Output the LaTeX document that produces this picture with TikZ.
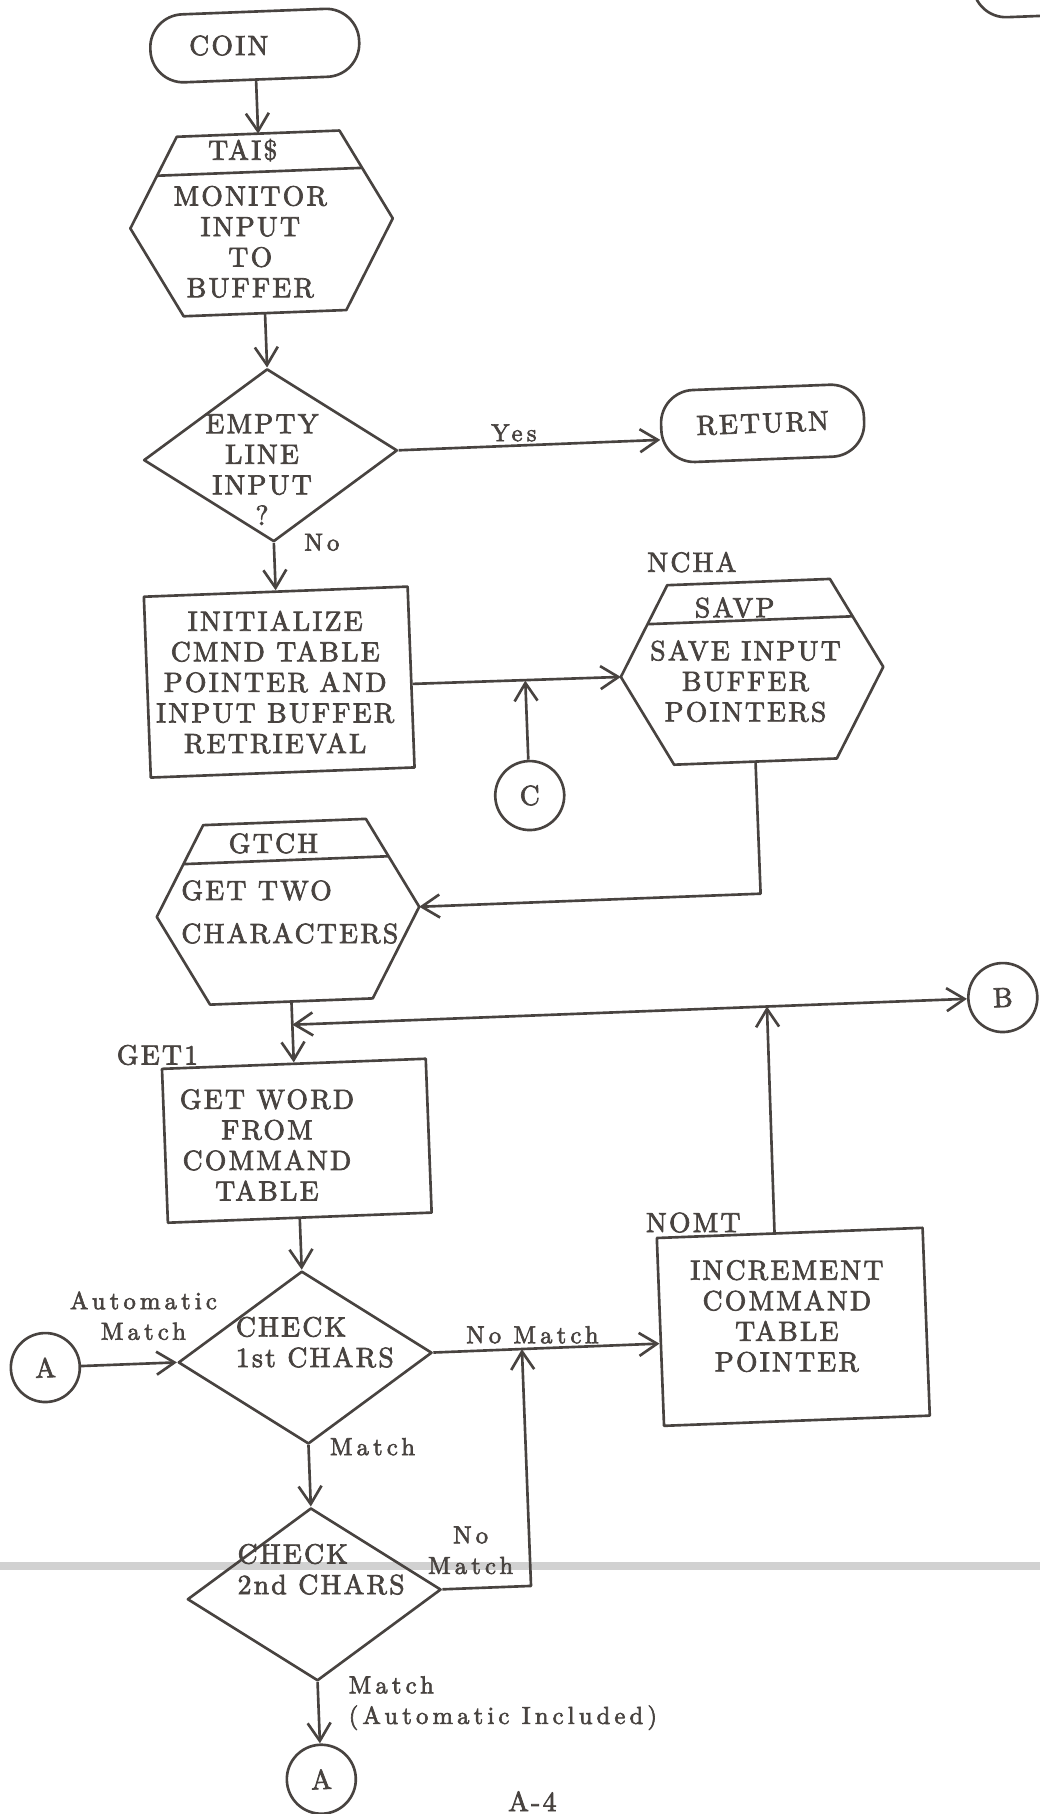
\documentclass[tikz,border=0pt]{standalone}
\usepackage{fontspec}
\usetikzlibrary{shapes.geometric,arrows.meta,calc}

\definecolor{ink}{RGB}{72,67,64}
\newfontfamily\boxfont{lmroman10-regular.otf}[LetterSpace=8, FakeBold=2.5]
\newfontfamily\labelfont{lmroman10-regular.otf}[LetterSpace=17, FakeBold=2.5]
\newcommand{\ftext}{\boxfont\fontsize{15.8pt}{17.4pt}\selectfont}
\newcommand{\flabel}{\labelfont\fontsize{14pt}{17.4pt}\selectfont}

\begin{document}
\begin{tikzpicture}[
  x=0.02cm, y=-0.02cm,
  flow/.style={draw=ink, line width=1.5pt, line join=round},
  flowarr/.style={flow, -{Straight Barb[length=3.6mm,width=4.6mm]}},
  txt/.style={text=ink, font=\ftext, align=center, inner sep=0pt},
  lbl/.style={txt, font=\flabel},
  term/.style={flow, rectangle, rounded corners=0.66cm, inner sep=0pt, transform shape, txt},
  subr/.style={rectangle, minimum width=5.24cm, minimum height=3.58cm, inner sep=0pt, transform shape},
  decision/.style={flow, diamond, minimum width=5.08cm, minimum height=3.46cm, inner sep=0pt, transform shape},
  proc/.style={flow, rectangle, inner sep=0pt, transform shape},
  conn/.style={flow, circle, minimum size=1.38cm, inner sep=0pt, transform shape, txt}
]

\useasboundingbox (0,0) rectangle (1040,1814);
\clip (0,0) rectangle (1040,1814);

% grey band across the page
\draw[black!18, line width=0.16cm] (0,1566) -- (1040,1566);

\begin{scope}[rotate around={2.2:(520,907)}]

% main column
\node[term, minimum width=4.18cm, minimum height=1.36cm] (coin) at (288,36) {};
\node[subr] (tais) at (288,214) {};
\node[decision] (empty) at (288,446) {};
\node[proc, minimum width=5.28cm, minimum height=3.62cm] (init) at (288,673) {};
\node[subr] (gtch) at (288,903) {};
\node[proc, minimum width=5.28cm, minimum height=3.08cm] (getw) at (288,1132) {};
\node[decision] (chk1) at (288,1349) {};
\node[decision] (chk2) at (288,1586) {};
\node[conn] (a2) at (288,1771) {A};

% right side
\node[term, minimum width=4.06cm, minimum height=1.44cm] (ret) at (781,433) {RETURN};
\node[subr] (savp) at (761,681) {};
\node[conn] (conC) at (534,796) {C};
\node[conn] (conB) at (999,1016) {B};
\node[proc, minimum width=5.32cm, minimum height=3.76cm] (incr) at (777,1337) {};
\node[conn] (a1) at (28,1349) {A};
\node[term, minimum width=4cm, minimum height=1.5cm] (cont) at (1108,-1) {};

% hexagon outlines with header line
\foreach \n in {tais,savp,gtch} {
  \coordinate (\n-nw) at ($(\n.north west)!0.19!(\n.north east)$);
  \coordinate (\n-ne) at ($(\n.north east)!0.19!(\n.north west)$);
  \coordinate (\n-se) at ($(\n.south east)!0.19!(\n.south west)$);
  \coordinate (\n-sw) at ($(\n.south west)!0.19!(\n.south east)$);
  \draw[flow] (\n-nw) -- (\n-ne) -- (\n.east) -- (\n-se) -- (\n-sw) -- (\n.west) -- cycle;
  \draw[flow] ($(\n-nw)!0.425!(\n.west)$) -- ($(\n-ne)!0.425!(\n.east)$);
}

% texts in shapes
\node[txt] (coin-t) at (262,35) {COIN};
\node[txt] (tais-h) at (272,140) {TAI\$};
\node[txt] (tais-t) at (276,232) {MONITOR\\INPUT\\TO\\BUFFER};
\node[txt] (empty-t) at (279,460) {EMPTY\\LINE\\INPUT\\?};
\node[txt] (init-t) at (284,673) {INITIALIZE\\CMND TABLE\\POINTER AND\\INPUT BUFFER\\RETRIEVAL};
\node[txt] (savp-h) at (746,616) {SAVP};
\node[txt] (savp-t) at (754,690) {SAVE INPUT\\BUFFER\\POINTERS};
\node[txt] (gtch-h) at (276,834) {GTCH};
\node[txt, anchor=west, align=left] (gtch-t) at (181,899) {GET TWO\\[0.25cm]CHARACTERS};
\node[txt] (getw-t) at (258,1135) {GET WORD\\FROM\\COMMAND\\TABLE};
\node[txt] (incr-t) at (771,1326) {INCREMENT\\COMMAND\\TABLE\\POINTER};
\node[txt, anchor=west, align=left] (chk1-t) at (219,1331) {CHECK\\1st CHARS};
\node[txt, anchor=west, align=left] (chk2-t) at (212,1558) {CHECK\\2nd CHARS};

% labels
\node[lbl] (yes-l) at (532,433) {Yes};
\node[lbl] (no-l) at (336,535) {No};
\node[txt] (ncha-l) at (705,569) {NCHA};
\node[txt] (get1-l) at (152,1041) {GET1};
\node[txt] (nomt-l) at (681,1229) {NOMT};
\node[lbl] (auto-l) at (128,1301) {Automatic\\Match};
\node[lbl] (nom1-l) at (516,1335) {No Match};
\node[lbl, anchor=west] (match1-l) at (309,1439) {Match};
\node[lbl] (nom2-l) at (446,1548) {No\\Match};
\node[lbl, anchor=west, align=left] (match2-l) at (318,1696) {Match\\(Automatic Included)};
\node[txt] (page-l) at (498,1801) {A-4};

% junctions and bends
\coordinate (jc) at (534,681);
\coordinate (cs) at (761,903);
\coordinate (jb) at (763,1016);
\coordinate (jl) at (288,1016);
\coordinate (k) at (505,1349);
\coordinate (k2) at (505,1586);

% connectors
\draw[flowarr] (coin.south) -- (tais.north);
\draw[flowarr] (tais.south) -- (empty.north);
\draw[flowarr] (empty.east) -- (ret.187);
\draw[flowarr] (empty.south) -- (init.north);
\draw[flowarr] (init.357) -- (savp.west);
\draw[flowarr] (conC.north) -- (jc);
\draw[flowarr] (savp.south) -- (cs) -- (gtch.east);
\draw[flowarr] (gtch.south) -- (getw.north);
\draw[flowarr] (incr.99) -- (jb);
\draw[flowarr] (jb) -- (conB.west);
\draw[flowarr] (jb) -- (jl);
\draw[flowarr] (getw.south) -- (chk1.north);
\draw[flowarr] (a1.east) -- (chk1.west);
\draw[flowarr] (chk1.east) -- (incr.185);
\draw[flowarr] (chk1.south) -- (chk2.north);
\draw[flowarr] (chk2.east) -- (k2) -- (k);
\draw[flowarr] (chk2.south) -- (a2.north);

\end{scope}
\end{tikzpicture}
\end{document}
